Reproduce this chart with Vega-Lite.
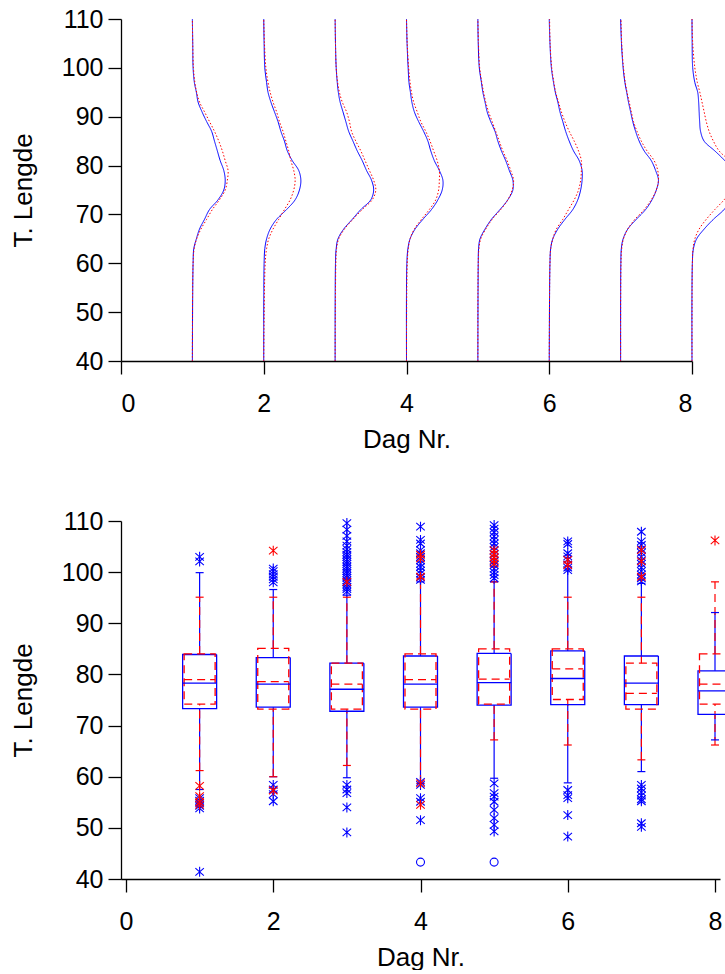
{
  "$schema": "https://vega.github.io/schema/vega-lite/v6.json",
  "background": "white",
  "padding": {"left": 10, "top": 7, "right": 0, "bottom": 0},
  "spacing": 57,
  "resolve": {"scale": {"strokeDash": "independent", "size": "independent", "shape": "independent"}},
  "config": {
    "font": "Liberation Sans",
    "view": {"stroke": null},
    "axis": {"grid": false, "domainColor": "#000000", "tickColor": "#000000", "labelColor": "#000000", "titleColor": "#000000", "labelFont": "Liberation Sans", "titleFont": "Liberation Sans", "labelFontSize": 25, "titleFontSize": 26, "titleFontWeight": "normal", "domainWidth": 1.3, "tickWidth": 1.3},
    "axisX": {"tickSize": 13, "labelPadding": 17, "titlePadding": 10},
    "axisY": {"tickSize": 13, "labelPadding": 5, "titlePadding": 25}
  },
  "datasets": {
    "tetthet": [
      {"dag":1,"serie":"A","lengde":40,"x":1},{"dag":1,"serie":"A","lengde":60,"x":1.01},{"dag":1,"serie":"A","lengde":63,"x":1.02},{"dag":1,"serie":"A","lengde":65,"x":1.056},{"dag":1,"serie":"A","lengde":67,"x":1.1},{"dag":1,"serie":"A","lengde":69,"x":1.17},{"dag":1,"serie":"A","lengde":71,"x":1.24},{"dag":1,"serie":"A","lengde":73,"x":1.36},{"dag":1,"serie":"A","lengde":75,"x":1.44},{"dag":1,"serie":"A","lengde":77,"x":1.46},{"dag":1,"serie":"A","lengde":79,"x":1.44},{"dag":1,"serie":"A","lengde":81,"x":1.39},{"dag":1,"serie":"A","lengde":83,"x":1.35},{"dag":1,"serie":"A","lengde":85,"x":1.31},{"dag":1,"serie":"A","lengde":87,"x":1.27},{"dag":1,"serie":"A","lengde":89,"x":1.2},{"dag":1,"serie":"A","lengde":91,"x":1.135},{"dag":1,"serie":"A","lengde":93,"x":1.08},{"dag":1,"serie":"A","lengde":95,"x":1.056},{"dag":1,"serie":"A","lengde":97,"x":1.028},{"dag":1,"serie":"A","lengde":100,"x":1.01},{"dag":1,"serie":"A","lengde":105,"x":1.005},{"dag":1,"serie":"A","lengde":110,"x":1},
      {"dag":1,"serie":"B","lengde":40,"x":1},{"dag":1,"serie":"B","lengde":60,"x":1.01},{"dag":1,"serie":"B","lengde":63,"x":1.025},{"dag":1,"serie":"B","lengde":65,"x":1.06},{"dag":1,"serie":"B","lengde":67,"x":1.12},{"dag":1,"serie":"B","lengde":69,"x":1.2},{"dag":1,"serie":"B","lengde":71,"x":1.28},{"dag":1,"serie":"B","lengde":73,"x":1.38},{"dag":1,"serie":"B","lengde":75,"x":1.46},{"dag":1,"serie":"B","lengde":77,"x":1.49},{"dag":1,"serie":"B","lengde":79,"x":1.5},{"dag":1,"serie":"B","lengde":81,"x":1.46},{"dag":1,"serie":"B","lengde":83,"x":1.42},{"dag":1,"serie":"B","lengde":85,"x":1.37},{"dag":1,"serie":"B","lengde":87,"x":1.31},{"dag":1,"serie":"B","lengde":89,"x":1.24},{"dag":1,"serie":"B","lengde":91,"x":1.17},{"dag":1,"serie":"B","lengde":93,"x":1.1},{"dag":1,"serie":"B","lengde":95,"x":1.06},{"dag":1,"serie":"B","lengde":97,"x":1.035},{"dag":1,"serie":"B","lengde":100,"x":1.015},{"dag":1,"serie":"B","lengde":105,"x":1.005},{"dag":1,"serie":"B","lengde":110,"x":1},
      {"dag":2,"serie":"A","lengde":40,"x":2},{"dag":2,"serie":"A","lengde":60,"x":2.005},{"dag":2,"serie":"A","lengde":63,"x":2.015},{"dag":2,"serie":"A","lengde":65,"x":2.04},{"dag":2,"serie":"A","lengde":67,"x":2.09},{"dag":2,"serie":"A","lengde":69,"x":2.18},{"dag":2,"serie":"A","lengde":71,"x":2.32},{"dag":2,"serie":"A","lengde":73,"x":2.44},{"dag":2,"serie":"A","lengde":75,"x":2.5},{"dag":2,"serie":"A","lengde":77,"x":2.52},{"dag":2,"serie":"A","lengde":79,"x":2.49},{"dag":2,"serie":"A","lengde":81,"x":2.4},{"dag":2,"serie":"A","lengde":83,"x":2.33},{"dag":2,"serie":"A","lengde":85,"x":2.29},{"dag":2,"serie":"A","lengde":87,"x":2.24},{"dag":2,"serie":"A","lengde":89,"x":2.2},{"dag":2,"serie":"A","lengde":91,"x":2.15},{"dag":2,"serie":"A","lengde":93,"x":2.1},{"dag":2,"serie":"A","lengde":95,"x":2.06},{"dag":2,"serie":"A","lengde":97,"x":2.04},{"dag":2,"serie":"A","lengde":100,"x":2.015},{"dag":2,"serie":"A","lengde":105,"x":2.005},{"dag":2,"serie":"A","lengde":110,"x":2},
      {"dag":2,"serie":"B","lengde":40,"x":2},{"dag":2,"serie":"B","lengde":60,"x":2.02},{"dag":2,"serie":"B","lengde":63,"x":2.04},{"dag":2,"serie":"B","lengde":65,"x":2.07},{"dag":2,"serie":"B","lengde":67,"x":2.13},{"dag":2,"serie":"B","lengde":69,"x":2.21},{"dag":2,"serie":"B","lengde":71,"x":2.29},{"dag":2,"serie":"B","lengde":73,"x":2.37},{"dag":2,"serie":"B","lengde":75,"x":2.42},{"dag":2,"serie":"B","lengde":77,"x":2.44},{"dag":2,"serie":"B","lengde":79,"x":2.42},{"dag":2,"serie":"B","lengde":81,"x":2.38},{"dag":2,"serie":"B","lengde":83,"x":2.35},{"dag":2,"serie":"B","lengde":85,"x":2.31},{"dag":2,"serie":"B","lengde":87,"x":2.27},{"dag":2,"serie":"B","lengde":89,"x":2.22},{"dag":2,"serie":"B","lengde":91,"x":2.18},{"dag":2,"serie":"B","lengde":93,"x":2.13},{"dag":2,"serie":"B","lengde":95,"x":2.09},{"dag":2,"serie":"B","lengde":97,"x":2.06},{"dag":2,"serie":"B","lengde":100,"x":2.03},{"dag":2,"serie":"B","lengde":105,"x":2.01},{"dag":2,"serie":"B","lengde":110,"x":2},
      {"dag":3,"serie":"A","lengde":40,"x":3},{"dag":3,"serie":"A","lengde":60,"x":3.005},{"dag":3,"serie":"A","lengde":63,"x":3.015},{"dag":3,"serie":"A","lengde":65,"x":3.04},{"dag":3,"serie":"A","lengde":67,"x":3.12},{"dag":3,"serie":"A","lengde":69,"x":3.24},{"dag":3,"serie":"A","lengde":71,"x":3.36},{"dag":3,"serie":"A","lengde":73,"x":3.5},{"dag":3,"serie":"A","lengde":75,"x":3.54},{"dag":3,"serie":"A","lengde":77,"x":3.51},{"dag":3,"serie":"A","lengde":79,"x":3.44},{"dag":3,"serie":"A","lengde":81,"x":3.38},{"dag":3,"serie":"A","lengde":83,"x":3.31},{"dag":3,"serie":"A","lengde":85,"x":3.25},{"dag":3,"serie":"A","lengde":87,"x":3.19},{"dag":3,"serie":"A","lengde":89,"x":3.15},{"dag":3,"serie":"A","lengde":91,"x":3.11},{"dag":3,"serie":"A","lengde":93,"x":3.07},{"dag":3,"serie":"A","lengde":95,"x":3.045},{"dag":3,"serie":"A","lengde":97,"x":3.03},{"dag":3,"serie":"A","lengde":100,"x":3.015},{"dag":3,"serie":"A","lengde":105,"x":3.005},{"dag":3,"serie":"A","lengde":110,"x":3},
      {"dag":3,"serie":"B","lengde":40,"x":3},{"dag":3,"serie":"B","lengde":60,"x":3.01},{"dag":3,"serie":"B","lengde":63,"x":3.02},{"dag":3,"serie":"B","lengde":65,"x":3.05},{"dag":3,"serie":"B","lengde":67,"x":3.13},{"dag":3,"serie":"B","lengde":69,"x":3.25},{"dag":3,"serie":"B","lengde":71,"x":3.38},{"dag":3,"serie":"B","lengde":73,"x":3.52},{"dag":3,"serie":"B","lengde":75,"x":3.57},{"dag":3,"serie":"B","lengde":77,"x":3.54},{"dag":3,"serie":"B","lengde":79,"x":3.48},{"dag":3,"serie":"B","lengde":81,"x":3.42},{"dag":3,"serie":"B","lengde":83,"x":3.36},{"dag":3,"serie":"B","lengde":85,"x":3.29},{"dag":3,"serie":"B","lengde":87,"x":3.23},{"dag":3,"serie":"B","lengde":89,"x":3.2},{"dag":3,"serie":"B","lengde":91,"x":3.16},{"dag":3,"serie":"B","lengde":93,"x":3.1},{"dag":3,"serie":"B","lengde":95,"x":3.06},{"dag":3,"serie":"B","lengde":97,"x":3.035},{"dag":3,"serie":"B","lengde":100,"x":3.015},{"dag":3,"serie":"B","lengde":105,"x":3.005},{"dag":3,"serie":"B","lengde":110,"x":3},
      {"dag":4,"serie":"A","lengde":40,"x":4},{"dag":4,"serie":"A","lengde":60,"x":4.005},{"dag":4,"serie":"A","lengde":63,"x":4.02},{"dag":4,"serie":"A","lengde":65,"x":4.05},{"dag":4,"serie":"A","lengde":67,"x":4.12},{"dag":4,"serie":"A","lengde":69,"x":4.23},{"dag":4,"serie":"A","lengde":71,"x":4.35},{"dag":4,"serie":"A","lengde":73,"x":4.44},{"dag":4,"serie":"A","lengde":75,"x":4.5},{"dag":4,"serie":"A","lengde":77,"x":4.51},{"dag":4,"serie":"A","lengde":79,"x":4.46},{"dag":4,"serie":"A","lengde":81,"x":4.39},{"dag":4,"serie":"A","lengde":83,"x":4.34},{"dag":4,"serie":"A","lengde":85,"x":4.3},{"dag":4,"serie":"A","lengde":87,"x":4.24},{"dag":4,"serie":"A","lengde":89,"x":4.17},{"dag":4,"serie":"A","lengde":91,"x":4.11},{"dag":4,"serie":"A","lengde":93,"x":4.075},{"dag":4,"serie":"A","lengde":95,"x":4.055},{"dag":4,"serie":"A","lengde":97,"x":4.035},{"dag":4,"serie":"A","lengde":100,"x":4.023},{"dag":4,"serie":"A","lengde":105,"x":4.008},{"dag":4,"serie":"A","lengde":110,"x":4},
      {"dag":4,"serie":"B","lengde":40,"x":4},{"dag":4,"serie":"B","lengde":60,"x":4.01},{"dag":4,"serie":"B","lengde":63,"x":4.025},{"dag":4,"serie":"B","lengde":65,"x":4.05},{"dag":4,"serie":"B","lengde":67,"x":4.11},{"dag":4,"serie":"B","lengde":69,"x":4.21},{"dag":4,"serie":"B","lengde":71,"x":4.32},{"dag":4,"serie":"B","lengde":73,"x":4.41},{"dag":4,"serie":"B","lengde":75,"x":4.45},{"dag":4,"serie":"B","lengde":77,"x":4.46},{"dag":4,"serie":"B","lengde":79,"x":4.46},{"dag":4,"serie":"B","lengde":81,"x":4.43},{"dag":4,"serie":"B","lengde":83,"x":4.38},{"dag":4,"serie":"B","lengde":85,"x":4.33},{"dag":4,"serie":"B","lengde":87,"x":4.27},{"dag":4,"serie":"B","lengde":89,"x":4.2},{"dag":4,"serie":"B","lengde":91,"x":4.15},{"dag":4,"serie":"B","lengde":93,"x":4.1},{"dag":4,"serie":"B","lengde":95,"x":4.07},{"dag":4,"serie":"B","lengde":97,"x":4.05},{"dag":4,"serie":"B","lengde":100,"x":4.03},{"dag":4,"serie":"B","lengde":105,"x":4.01},{"dag":4,"serie":"B","lengde":110,"x":4},
      {"dag":5,"serie":"A","lengde":40,"x":5},{"dag":5,"serie":"A","lengde":60,"x":5.005},{"dag":5,"serie":"A","lengde":63,"x":5.01},{"dag":5,"serie":"A","lengde":65,"x":5.03},{"dag":5,"serie":"A","lengde":67,"x":5.1},{"dag":5,"serie":"A","lengde":69,"x":5.19},{"dag":5,"serie":"A","lengde":71,"x":5.31},{"dag":5,"serie":"A","lengde":73,"x":5.42},{"dag":5,"serie":"A","lengde":75,"x":5.49},{"dag":5,"serie":"A","lengde":77,"x":5.49},{"dag":5,"serie":"A","lengde":79,"x":5.44},{"dag":5,"serie":"A","lengde":81,"x":5.39},{"dag":5,"serie":"A","lengde":83,"x":5.33},{"dag":5,"serie":"A","lengde":85,"x":5.28},{"dag":5,"serie":"A","lengde":87,"x":5.24},{"dag":5,"serie":"A","lengde":89,"x":5.18},{"dag":5,"serie":"A","lengde":91,"x":5.13},{"dag":5,"serie":"A","lengde":93,"x":5.1},{"dag":5,"serie":"A","lengde":95,"x":5.07},{"dag":5,"serie":"A","lengde":97,"x":5.05},{"dag":5,"serie":"A","lengde":100,"x":5.02},{"dag":5,"serie":"A","lengde":105,"x":5.005},{"dag":5,"serie":"A","lengde":110,"x":5},
      {"dag":5,"serie":"B","lengde":40,"x":5},{"dag":5,"serie":"B","lengde":60,"x":5.005},{"dag":5,"serie":"B","lengde":63,"x":5.015},{"dag":5,"serie":"B","lengde":65,"x":5.04},{"dag":5,"serie":"B","lengde":67,"x":5.11},{"dag":5,"serie":"B","lengde":69,"x":5.2},{"dag":5,"serie":"B","lengde":71,"x":5.32},{"dag":5,"serie":"B","lengde":73,"x":5.42},{"dag":5,"serie":"B","lengde":75,"x":5.48},{"dag":5,"serie":"B","lengde":77,"x":5.5},{"dag":5,"serie":"B","lengde":79,"x":5.46},{"dag":5,"serie":"B","lengde":81,"x":5.41},{"dag":5,"serie":"B","lengde":83,"x":5.35},{"dag":5,"serie":"B","lengde":85,"x":5.3},{"dag":5,"serie":"B","lengde":87,"x":5.25},{"dag":5,"serie":"B","lengde":89,"x":5.2},{"dag":5,"serie":"B","lengde":91,"x":5.15},{"dag":5,"serie":"B","lengde":93,"x":5.11},{"dag":5,"serie":"B","lengde":95,"x":5.08},{"dag":5,"serie":"B","lengde":97,"x":5.055},{"dag":5,"serie":"B","lengde":100,"x":5.025},{"dag":5,"serie":"B","lengde":105,"x":5.008},{"dag":5,"serie":"B","lengde":110,"x":5},
      {"dag":6,"serie":"A","lengde":40,"x":6},{"dag":6,"serie":"A","lengde":60,"x":6.01},{"dag":6,"serie":"A","lengde":63,"x":6.02},{"dag":6,"serie":"A","lengde":65,"x":6.05},{"dag":6,"serie":"A","lengde":67,"x":6.12},{"dag":6,"serie":"A","lengde":69,"x":6.22},{"dag":6,"serie":"A","lengde":71,"x":6.33},{"dag":6,"serie":"A","lengde":73,"x":6.4},{"dag":6,"serie":"A","lengde":75,"x":6.44},{"dag":6,"serie":"A","lengde":77,"x":6.46},{"dag":6,"serie":"A","lengde":79,"x":6.46},{"dag":6,"serie":"A","lengde":81,"x":6.42},{"dag":6,"serie":"A","lengde":83,"x":6.34},{"dag":6,"serie":"A","lengde":85,"x":6.28},{"dag":6,"serie":"A","lengde":87,"x":6.23},{"dag":6,"serie":"A","lengde":89,"x":6.19},{"dag":6,"serie":"A","lengde":91,"x":6.15},{"dag":6,"serie":"A","lengde":93,"x":6.12},{"dag":6,"serie":"A","lengde":95,"x":6.085},{"dag":6,"serie":"A","lengde":97,"x":6.06},{"dag":6,"serie":"A","lengde":100,"x":6.03},{"dag":6,"serie":"A","lengde":105,"x":6.01},{"dag":6,"serie":"A","lengde":110,"x":6},
      {"dag":6,"serie":"B","lengde":40,"x":6},{"dag":6,"serie":"B","lengde":60,"x":6.01},{"dag":6,"serie":"B","lengde":63,"x":6.02},{"dag":6,"serie":"B","lengde":65,"x":6.05},{"dag":6,"serie":"B","lengde":67,"x":6.1},{"dag":6,"serie":"B","lengde":69,"x":6.19},{"dag":6,"serie":"B","lengde":71,"x":6.27},{"dag":6,"serie":"B","lengde":73,"x":6.35},{"dag":6,"serie":"B","lengde":75,"x":6.41},{"dag":6,"serie":"B","lengde":77,"x":6.44},{"dag":6,"serie":"B","lengde":79,"x":6.45},{"dag":6,"serie":"B","lengde":81,"x":6.45},{"dag":6,"serie":"B","lengde":83,"x":6.41},{"dag":6,"serie":"B","lengde":85,"x":6.35},{"dag":6,"serie":"B","lengde":87,"x":6.28},{"dag":6,"serie":"B","lengde":89,"x":6.22},{"dag":6,"serie":"B","lengde":91,"x":6.17},{"dag":6,"serie":"B","lengde":93,"x":6.13},{"dag":6,"serie":"B","lengde":95,"x":6.09},{"dag":6,"serie":"B","lengde":97,"x":6.065},{"dag":6,"serie":"B","lengde":100,"x":6.035},{"dag":6,"serie":"B","lengde":105,"x":6.012},{"dag":6,"serie":"B","lengde":110,"x":6.005},
      {"dag":7,"serie":"A","lengde":40,"x":7},{"dag":7,"serie":"A","lengde":60,"x":7.003},{"dag":7,"serie":"A","lengde":63,"x":7.01},{"dag":7,"serie":"A","lengde":65,"x":7.035},{"dag":7,"serie":"A","lengde":67,"x":7.1},{"dag":7,"serie":"A","lengde":69,"x":7.22},{"dag":7,"serie":"A","lengde":71,"x":7.35},{"dag":7,"serie":"A","lengde":73,"x":7.44},{"dag":7,"serie":"A","lengde":75,"x":7.5},{"dag":7,"serie":"A","lengde":77,"x":7.53},{"dag":7,"serie":"A","lengde":79,"x":7.49},{"dag":7,"serie":"A","lengde":81,"x":7.43},{"dag":7,"serie":"A","lengde":83,"x":7.33},{"dag":7,"serie":"A","lengde":85,"x":7.26},{"dag":7,"serie":"A","lengde":87,"x":7.21},{"dag":7,"serie":"A","lengde":89,"x":7.17},{"dag":7,"serie":"A","lengde":91,"x":7.14},{"dag":7,"serie":"A","lengde":93,"x":7.11},{"dag":7,"serie":"A","lengde":95,"x":7.085},{"dag":7,"serie":"A","lengde":97,"x":7.06},{"dag":7,"serie":"A","lengde":100,"x":7.035},{"dag":7,"serie":"A","lengde":105,"x":7.012},{"dag":7,"serie":"A","lengde":110,"x":7},
      {"dag":7,"serie":"B","lengde":40,"x":7},{"dag":7,"serie":"B","lengde":60,"x":7.005},{"dag":7,"serie":"B","lengde":63,"x":7.015},{"dag":7,"serie":"B","lengde":65,"x":7.04},{"dag":7,"serie":"B","lengde":67,"x":7.1},{"dag":7,"serie":"B","lengde":69,"x":7.2},{"dag":7,"serie":"B","lengde":71,"x":7.33},{"dag":7,"serie":"B","lengde":73,"x":7.43},{"dag":7,"serie":"B","lengde":75,"x":7.5},{"dag":7,"serie":"B","lengde":77,"x":7.53},{"dag":7,"serie":"B","lengde":79,"x":7.52},{"dag":7,"serie":"B","lengde":81,"x":7.47},{"dag":7,"serie":"B","lengde":83,"x":7.37},{"dag":7,"serie":"B","lengde":85,"x":7.29},{"dag":7,"serie":"B","lengde":87,"x":7.23},{"dag":7,"serie":"B","lengde":89,"x":7.18},{"dag":7,"serie":"B","lengde":91,"x":7.15},{"dag":7,"serie":"B","lengde":93,"x":7.12},{"dag":7,"serie":"B","lengde":95,"x":7.09},{"dag":7,"serie":"B","lengde":97,"x":7.065},{"dag":7,"serie":"B","lengde":100,"x":7.04},{"dag":7,"serie":"B","lengde":105,"x":7.015},{"dag":7,"serie":"B","lengde":110,"x":7.005},
      {"dag":8,"serie":"A","lengde":40,"x":8},{"dag":8,"serie":"A","lengde":60,"x":8.005},{"dag":8,"serie":"A","lengde":63,"x":8.02},{"dag":8,"serie":"A","lengde":65,"x":8.065},{"dag":8,"serie":"A","lengde":67,"x":8.17},{"dag":8,"serie":"A","lengde":69,"x":8.3},{"dag":8,"serie":"A","lengde":71,"x":8.45},{"dag":8,"serie":"A","lengde":73,"x":8.55},{"dag":8,"serie":"A","lengde":75,"x":8.6},{"dag":8,"serie":"A","lengde":77,"x":8.61},{"dag":8,"serie":"A","lengde":79,"x":8.57},{"dag":8,"serie":"A","lengde":81,"x":8.46},{"dag":8,"serie":"A","lengde":83,"x":8.32},{"dag":8,"serie":"A","lengde":85,"x":8.17},{"dag":8,"serie":"A","lengde":87,"x":8.12},{"dag":8,"serie":"A","lengde":89,"x":8.107},{"dag":8,"serie":"A","lengde":91,"x":8.1},{"dag":8,"serie":"A","lengde":93,"x":8.093},{"dag":8,"serie":"A","lengde":95,"x":8.08},{"dag":8,"serie":"A","lengde":97,"x":8.04},{"dag":8,"serie":"A","lengde":100,"x":8.01},{"dag":8,"serie":"A","lengde":105,"x":8.002},{"dag":8,"serie":"A","lengde":110,"x":8},
      {"dag":8,"serie":"B","lengde":40,"x":8},{"dag":8,"serie":"B","lengde":60,"x":8.005},{"dag":8,"serie":"B","lengde":63,"x":8.015},{"dag":8,"serie":"B","lengde":65,"x":8.04},{"dag":8,"serie":"B","lengde":67,"x":8.1},{"dag":8,"serie":"B","lengde":69,"x":8.2},{"dag":8,"serie":"B","lengde":71,"x":8.32},{"dag":8,"serie":"B","lengde":73,"x":8.45},{"dag":8,"serie":"B","lengde":75,"x":8.55},{"dag":8,"serie":"B","lengde":77,"x":8.6},{"dag":8,"serie":"B","lengde":79,"x":8.6},{"dag":8,"serie":"B","lengde":81,"x":8.52},{"dag":8,"serie":"B","lengde":83,"x":8.38},{"dag":8,"serie":"B","lengde":85,"x":8.3},{"dag":8,"serie":"B","lengde":87,"x":8.24},{"dag":8,"serie":"B","lengde":89,"x":8.2},{"dag":8,"serie":"B","lengde":91,"x":8.17},{"dag":8,"serie":"B","lengde":93,"x":8.14},{"dag":8,"serie":"B","lengde":95,"x":8.11},{"dag":8,"serie":"B","lengde":97,"x":8.075},{"dag":8,"serie":"B","lengde":100,"x":8.04},{"dag":8,"serie":"B","lengde":105,"x":8.01},{"dag":8,"serie":"B","lengde":110,"x":8}
    ],
    "bokser": [
      {"dag":1,"serie":"A","lo":57.5,"q1":73.3,"med":78.3,"q3":83.9,"hi":99.9},
      {"dag":2,"serie":"A","lo":60.0,"q1":73.6,"med":78.1,"q3":83.3,"hi":96.6},
      {"dag":3,"serie":"A","lo":59.8,"q1":72.8,"med":77.1,"q3":82.2,"hi":95.5},
      {"dag":4,"serie":"A","lo":58.7,"q1":73.6,"med":78.1,"q3":83.6,"hi":98.1},
      {"dag":5,"serie":"A","lo":59.7,"q1":74.0,"med":78.4,"q3":84.1,"hi":98.1},
      {"dag":6,"serie":"A","lo":58.8,"q1":74.1,"med":79.2,"q3":84.6,"hi":100.4},
      {"dag":7,"serie":"A","lo":61.0,"q1":74.1,"med":78.3,"q3":83.6,"hi":97.8},
      {"dag":8,"serie":"A","lo":67.2,"q1":72.2,"med":76.8,"q3":80.7,"hi":92.1},
      {"dag":1,"serie":"B","lo":61.2,"q1":74.2,"med":79.0,"q3":84.0,"hi":95.1},
      {"dag":2,"serie":"B","lo":60.0,"q1":73.2,"med":78.6,"q3":85.1,"hi":95.1},
      {"dag":3,"serie":"B","lo":62.2,"q1":73.2,"med":78.1,"q3":82.2,"hi":95.1},
      {"dag":4,"serie":"B","lo":58.7,"q1":73.2,"med":79.0,"q3":84.0,"hi":98.8},
      {"dag":5,"serie":"B","lo":67.2,"q1":74.2,"med":79.1,"q3":85.0,"hi":98.1},
      {"dag":6,"serie":"B","lo":66.2,"q1":75.1,"med":81.1,"q3":85.0,"hi":95.1},
      {"dag":7,"serie":"B","lo":63.3,"q1":73.2,"med":76.3,"q3":82.2,"hi":95.1},
      {"dag":8,"serie":"B","lo":66.2,"q1":74.2,"med":78.1,"q3":84.0,"hi":98.1}
    ],
    "avvik": [
      {"dag":1,"serie":"A","lengde":103.0,"type":"stjerne"},{"dag":1,"serie":"A","lengde":102.1,"type":"stjerne"},{"dag":1,"serie":"A","lengde":55.8,"type":"stjerne"},{"dag":1,"serie":"A","lengde":55.3,"type":"stjerne"},{"dag":1,"serie":"A","lengde":54.8,"type":"stjerne"},{"dag":1,"serie":"A","lengde":54.3,"type":"stjerne"},{"dag":1,"serie":"A","lengde":53.8,"type":"stjerne"},{"dag":1,"serie":"A","lengde":41.4,"type":"stjerne"},
      {"dag":2,"serie":"A","lengde":100.7,"type":"stjerne"},{"dag":2,"serie":"A","lengde":100.2,"type":"stjerne"},{"dag":2,"serie":"A","lengde":99.6,"type":"stjerne"},{"dag":2,"serie":"A","lengde":99.1,"type":"stjerne"},{"dag":2,"serie":"A","lengde":98.6,"type":"stjerne"},{"dag":2,"serie":"A","lengde":98.0,"type":"stjerne"},{"dag":2,"serie":"A","lengde":58.4,"type":"stjerne"},{"dag":2,"serie":"A","lengde":57.5,"type":"stjerne"},{"dag":2,"serie":"A","lengde":56.6,"type":"stjerne"},{"dag":2,"serie":"A","lengde":55.2,"type":"stjerne"},
      {"dag":3,"serie":"A","lengde":96.2,"type":"stjerne"},{"dag":3,"serie":"A","lengde":96.7,"type":"stjerne"},{"dag":3,"serie":"A","lengde":97.1,"type":"stjerne"},{"dag":3,"serie":"A","lengde":97.6,"type":"stjerne"},{"dag":3,"serie":"A","lengde":98.0,"type":"stjerne"},{"dag":3,"serie":"A","lengde":98.4,"type":"stjerne"},{"dag":3,"serie":"A","lengde":98.9,"type":"stjerne"},{"dag":3,"serie":"A","lengde":99.3,"type":"stjerne"},{"dag":3,"serie":"A","lengde":99.8,"type":"stjerne"},{"dag":3,"serie":"A","lengde":100.2,"type":"stjerne"},{"dag":3,"serie":"A","lengde":100.7,"type":"stjerne"},{"dag":3,"serie":"A","lengde":101.1,"type":"stjerne"},{"dag":3,"serie":"A","lengde":101.6,"type":"stjerne"},{"dag":3,"serie":"A","lengde":102.0,"type":"stjerne"},{"dag":3,"serie":"A","lengde":102.5,"type":"stjerne"},{"dag":3,"serie":"A","lengde":103.0,"type":"stjerne"},{"dag":3,"serie":"A","lengde":103.4,"type":"stjerne"},{"dag":3,"serie":"A","lengde":103.9,"type":"stjerne"},{"dag":3,"serie":"A","lengde":104.5,"type":"stjerne"},{"dag":3,"serie":"A","lengde":105.2,"type":"stjerne"},{"dag":3,"serie":"A","lengde":106.0,"type":"stjerne"},{"dag":3,"serie":"A","lengde":107.1,"type":"stjerne"},{"dag":3,"serie":"A","lengde":108.3,"type":"stjerne"},{"dag":3,"serie":"A","lengde":109.6,"type":"stjerne"},{"dag":3,"serie":"A","lengde":58.4,"type":"stjerne"},{"dag":3,"serie":"A","lengde":57.5,"type":"stjerne"},{"dag":3,"serie":"A","lengde":56.8,"type":"stjerne"},{"dag":3,"serie":"A","lengde":54.0,"type":"stjerne"},{"dag":3,"serie":"A","lengde":49.1,"type":"stjerne"},
      {"dag":4,"serie":"A","lengde":108.9,"type":"stjerne"},{"dag":4,"serie":"A","lengde":106.3,"type":"stjerne"},{"dag":4,"serie":"A","lengde":105.6,"type":"stjerne"},{"dag":4,"serie":"A","lengde":104.3,"type":"stjerne"},{"dag":4,"serie":"A","lengde":103.7,"type":"stjerne"},{"dag":4,"serie":"A","lengde":103.0,"type":"stjerne"},{"dag":4,"serie":"A","lengde":102.3,"type":"stjerne"},{"dag":4,"serie":"A","lengde":101.6,"type":"stjerne"},{"dag":4,"serie":"A","lengde":101.0,"type":"stjerne"},{"dag":4,"serie":"A","lengde":100.3,"type":"stjerne"},{"dag":4,"serie":"A","lengde":99.7,"type":"stjerne"},{"dag":4,"serie":"A","lengde":99.0,"type":"stjerne"},{"dag":4,"serie":"A","lengde":98.5,"type":"stjerne"},{"dag":4,"serie":"A","lengde":59.0,"type":"stjerne"},{"dag":4,"serie":"A","lengde":58.4,"type":"stjerne"},{"dag":4,"serie":"A","lengde":55.8,"type":"stjerne"},{"dag":4,"serie":"A","lengde":55.1,"type":"stjerne"},{"dag":4,"serie":"A","lengde":51.5,"type":"stjerne"},{"dag":4,"serie":"A","lengde":43.3,"type":"sirkel"},
      {"dag":5,"serie":"A","lengde":109.2,"type":"stjerne"},{"dag":5,"serie":"A","lengde":108.5,"type":"stjerne"},{"dag":5,"serie":"A","lengde":107.8,"type":"stjerne"},{"dag":5,"serie":"A","lengde":107.0,"type":"stjerne"},{"dag":5,"serie":"A","lengde":106.3,"type":"stjerne"},{"dag":5,"serie":"A","lengde":105.6,"type":"stjerne"},{"dag":5,"serie":"A","lengde":104.9,"type":"stjerne"},{"dag":5,"serie":"A","lengde":104.2,"type":"stjerne"},{"dag":5,"serie":"A","lengde":103.5,"type":"stjerne"},{"dag":5,"serie":"A","lengde":102.8,"type":"stjerne"},{"dag":5,"serie":"A","lengde":102.1,"type":"stjerne"},{"dag":5,"serie":"A","lengde":101.4,"type":"stjerne"},{"dag":5,"serie":"A","lengde":100.7,"type":"stjerne"},{"dag":5,"serie":"A","lengde":100.0,"type":"stjerne"},{"dag":5,"serie":"A","lengde":99.4,"type":"stjerne"},{"dag":5,"serie":"A","lengde":98.8,"type":"stjerne"},{"dag":5,"serie":"A","lengde":58.7,"type":"stjerne"},{"dag":5,"serie":"A","lengde":56.8,"type":"stjerne"},{"dag":5,"serie":"A","lengde":56.1,"type":"stjerne"},{"dag":5,"serie":"A","lengde":55.1,"type":"stjerne"},{"dag":5,"serie":"A","lengde":53.5,"type":"stjerne"},{"dag":5,"serie":"A","lengde":51.9,"type":"stjerne"},{"dag":5,"serie":"A","lengde":50.6,"type":"stjerne"},{"dag":5,"serie":"A","lengde":49.3,"type":"stjerne"},{"dag":5,"serie":"A","lengde":43.3,"type":"sirkel"},
      {"dag":6,"serie":"A","lengde":106.0,"type":"stjerne"},{"dag":6,"serie":"A","lengde":105.5,"type":"stjerne"},{"dag":6,"serie":"A","lengde":103.7,"type":"stjerne"},{"dag":6,"serie":"A","lengde":103.1,"type":"stjerne"},{"dag":6,"serie":"A","lengde":102.5,"type":"stjerne"},{"dag":6,"serie":"A","lengde":101.5,"type":"stjerne"},{"dag":6,"serie":"A","lengde":100.9,"type":"stjerne"},{"dag":6,"serie":"A","lengde":100.4,"type":"stjerne"},{"dag":6,"serie":"A","lengde":57.4,"type":"stjerne"},{"dag":6,"serie":"A","lengde":56.4,"type":"stjerne"},{"dag":6,"serie":"A","lengde":55.8,"type":"stjerne"},{"dag":6,"serie":"A","lengde":52.5,"type":"stjerne"},{"dag":6,"serie":"A","lengde":48.3,"type":"stjerne"},
      {"dag":7,"serie":"A","lengde":107.9,"type":"stjerne"},{"dag":7,"serie":"A","lengde":106.0,"type":"stjerne"},{"dag":7,"serie":"A","lengde":105.3,"type":"stjerne"},{"dag":7,"serie":"A","lengde":104.5,"type":"stjerne"},{"dag":7,"serie":"A","lengde":103.8,"type":"stjerne"},{"dag":7,"serie":"A","lengde":103.0,"type":"stjerne"},{"dag":7,"serie":"A","lengde":102.3,"type":"stjerne"},{"dag":7,"serie":"A","lengde":101.6,"type":"stjerne"},{"dag":7,"serie":"A","lengde":100.9,"type":"stjerne"},{"dag":7,"serie":"A","lengde":100.2,"type":"stjerne"},{"dag":7,"serie":"A","lengde":99.5,"type":"stjerne"},{"dag":7,"serie":"A","lengde":98.8,"type":"stjerne"},{"dag":7,"serie":"A","lengde":98.2,"type":"stjerne"},{"dag":7,"serie":"A","lengde":58.4,"type":"stjerne"},{"dag":7,"serie":"A","lengde":57.7,"type":"stjerne"},{"dag":7,"serie":"A","lengde":57.0,"type":"stjerne"},{"dag":7,"serie":"A","lengde":56.3,"type":"stjerne"},{"dag":7,"serie":"A","lengde":55.6,"type":"stjerne"},{"dag":7,"serie":"A","lengde":55.2,"type":"stjerne"},{"dag":7,"serie":"A","lengde":50.9,"type":"stjerne"},{"dag":7,"serie":"A","lengde":50.2,"type":"stjerne"},
      {"dag":1,"serie":"B","lengde":58.2,"type":"stjerne"},{"dag":1,"serie":"B","lengde":56.2,"type":"stjerne"},{"dag":1,"serie":"B","lengde":55.0,"type":"stjerne"},{"dag":1,"serie":"B","lengde":54.5,"type":"stjerne"},
      {"dag":2,"serie":"B","lengde":104.2,"type":"stjerne"},{"dag":2,"serie":"B","lengde":57.3,"type":"stjerne"},
      {"dag":3,"serie":"B","lengde":98.1,"type":"stjerne"},
      {"dag":4,"serie":"B","lengde":103.4,"type":"stjerne"},{"dag":4,"serie":"B","lengde":102.7,"type":"stjerne"},{"dag":4,"serie":"B","lengde":99.1,"type":"stjerne"},{"dag":4,"serie":"B","lengde":58.7,"type":"stjerne"},{"dag":4,"serie":"B","lengde":54.5,"type":"stjerne"},
      {"dag":5,"serie":"B","lengde":104.3,"type":"stjerne"},{"dag":5,"serie":"B","lengde":103.6,"type":"stjerne"},{"dag":5,"serie":"B","lengde":102.9,"type":"stjerne"},{"dag":5,"serie":"B","lengde":102.3,"type":"stjerne"},{"dag":5,"serie":"B","lengde":101.7,"type":"stjerne"},
      {"dag":6,"serie":"B","lengde":102.4,"type":"stjerne"},{"dag":6,"serie":"B","lengde":101.4,"type":"stjerne"},
      {"dag":7,"serie":"B","lengde":104.3,"type":"stjerne"},{"dag":7,"serie":"B","lengde":102.1,"type":"stjerne"},{"dag":7,"serie":"B","lengde":99.1,"type":"stjerne"},
      {"dag":8,"serie":"B","lengde":106.2,"type":"stjerne"}
    ]
  },
  "vconcat": [
    {
      "width": 571,
      "height": 342,
      "data": {"name": "tetthet"},
      "mark": {"type": "line", "strokeWidth": 1, "interpolate": "catmull-rom", "clip": false},
      "encoding": {
        "x": {"field": "x", "type": "quantitative", "scale": {"domain": [0, 8], "nice": false, "zero": false}, "axis": {"values": [0, 2, 4, 6, 8], "title": "Dag Nr."}},
        "y": {"field": "lengde", "type": "quantitative", "scale": {"domain": [40, 110], "nice": false, "zero": false}, "axis": {"values": [40, 50, 60, 70, 80, 90, 100, 110], "title": "T. Lengde"}},
        "detail": {"field": "dag", "type": "nominal"},
        "color": {"field": "serie", "type": "nominal", "scale": {"domain": ["A", "B"], "range": ["#0000ff", "#ff0000"]}, "legend": null},
        "strokeDash": {"field": "serie", "type": "nominal", "scale": {"domain": ["A", "B"], "range": [[1, 0], [1.5, 2]]}, "legend": null},
        "order": {"field": "lengde", "type": "quantitative"}
      }
    },
    {
      "width": 599,
      "height": 358,
      "resolve": {"scale": {"size": "independent"}},
      "encoding": {
        "x": {"field": "dag", "type": "quantitative", "scale": {"domain": [0, 8], "nice": false, "zero": false}, "axis": {"values": [0, 2, 4, 6, 8], "title": "Dag Nr."}},
        "color": {"field": "serie", "type": "nominal", "scale": {"domain": ["A", "B"], "range": ["#0000ff", "#ff0000"]}, "legend": null}
      },
      "layer": [
        {
          "data": {"name": "bokser"},
          "mark": {"type": "rule", "strokeWidth": 1.2, "clip": false},
          "encoding": {
            "y": {"field": "lo", "type": "quantitative", "scale": {"domain": [40, 110], "nice": false, "zero": false}, "axis": {"values": [40, 50, 60, 70, 80, 90, 100, 110], "title": "T. Lengde"}},
            "y2": {"field": "q1"},
            "strokeDash": {"field": "serie", "type": "nominal", "scale": {"domain": ["A", "B"], "range": [[1, 0], [8, 5]]}, "legend": null}
          }
        },
        {
          "data": {"name": "bokser"},
          "mark": {"type": "rule", "strokeWidth": 1.2, "clip": false},
          "encoding": {
            "y": {"field": "q3", "type": "quantitative"},
            "y2": {"field": "hi"},
            "strokeDash": {"field": "serie", "type": "nominal", "scale": {"domain": ["A", "B"], "range": [[1, 0], [8, 5]]}, "legend": null}
          }
        },
        {
          "data": {"name": "bokser"},
          "mark": {"type": "rule", "strokeWidth": 1.2, "xOffset": -4, "x2Offset": 4, "clip": false},
          "encoding": {
            "x2": {"field": "dag"},
            "y": {"field": "lo", "type": "quantitative"}
          }
        },
        {
          "data": {"name": "bokser"},
          "mark": {"type": "rule", "strokeWidth": 1.2, "xOffset": -4, "x2Offset": 4, "clip": false},
          "encoding": {
            "x2": {"field": "dag"},
            "y": {"field": "hi", "type": "quantitative"}
          }
        },
        {
          "data": {"name": "bokser"},
          "mark": {"type": "bar", "filled": false, "strokeWidth": 1.3, "orient": "vertical", "clip": false},
          "encoding": {
            "y": {"field": "q1", "type": "quantitative"},
            "y2": {"field": "q3"},
            "size": {"field": "serie", "type": "nominal", "scale": {"domain": ["A", "B"], "range": [34, 31]}, "legend": null},
            "strokeDash": {"field": "serie", "type": "nominal", "scale": {"domain": ["A", "B"], "range": [[1, 0], [8, 5]]}, "legend": null}
          }
        },
        {
          "data": {"name": "bokser"},
          "transform": [{"filter": "datum.serie === 'A'"}],
          "mark": {"type": "rule", "strokeWidth": 1.3, "xOffset": -17, "x2Offset": 17, "clip": false},
          "encoding": {
            "x2": {"field": "dag"},
            "y": {"field": "med", "type": "quantitative"}
          }
        },
        {
          "data": {"name": "bokser"},
          "transform": [{"filter": "datum.serie === 'B'"}],
          "mark": {"type": "rule", "strokeWidth": 1.3, "xOffset": -15.5, "x2Offset": 15.5, "strokeDash": [8, 5], "clip": false},
          "encoding": {
            "x2": {"field": "dag"},
            "y": {"field": "med", "type": "quantitative"}
          }
        },
        {
          "data": {"name": "avvik"},
          "mark": {"type": "point", "filled": false, "strokeWidth": 1.1, "opacity": 1, "clip": false},
          "encoding": {
            "y": {"field": "lengde", "type": "quantitative"},
            "shape": {"field": "type", "type": "nominal", "scale": {"domain": ["stjerne", "sirkel"], "range": ["M0,-1L0,1M-0.85,-0.75L0.85,0.75M-0.85,0.75L0.85,-0.75", "circle"]}, "legend": null},
            "size": {"field": "type", "type": "nominal", "scale": {"domain": ["stjerne", "sirkel"], "range": [100, 64]}, "legend": null}
          }
        }
      ]
    }
  ]
}
